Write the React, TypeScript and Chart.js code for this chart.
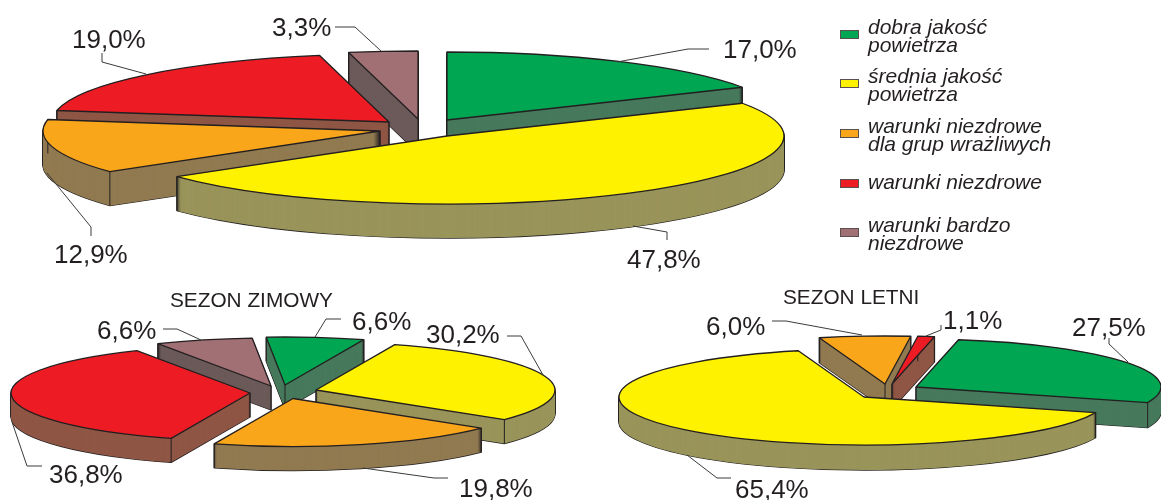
import React, { useEffect, useRef } from "react";
import { Chart, registerables } from "chart.js";

Chart.register(...registerables);

// Air-quality class shares, in percent
const categories: string[][] = [
  ["dobra jakość", "powietrza"],
  ["średnia jakość", "powietrza"],
  ["warunki niezdrowe", "dla grup wrażliwych"],
  ["warunki niezdrowe"],
  ["warunki bardzo", "niezdrowe"],
];
const allYearValues = [17.0, 47.8, 12.9, 19.0, 3.3];
const winterValues = [6.6, 30.2, 19.8, 36.8, 6.6];
const summerValues = [27.5, 65.4, 6.0, 1.1];

// Slice colours: top face and shaded wall, one per category
const faceColours = ["#00a651", "#fff200", "#faa61a", "#ed1c24", "#a17074"];
const wallColours = ["#47795c", "#99945a", "#917a50", "#8f5645", "#6b5a59"];
const INK = "#231f20";
const LEADER = "#3a3a3a";

type Pt = [number, number];
type PieSpec = {
  values: number[];
  centre: Pt;
  radii: Pt;
  depth: number;
  rotation: number;
  explode: Pt[]; // per-slice pull-out from the pie centre
  paintOrder: number[]; // back to front
  labelAt: Pt[]; // left end and baseline of each value label
  leaders: Pt[][];
  title?: { text: string; at: Pt };
};

const pies: PieSpec[] = [
  {
    values: allYearValues,
    centre: [418, 120],
    radii: [337, 68],
    depth: 34,
    rotation: 0,
    explode: [[29, 0], [29, 16], [-38, 11], [-29, 2], [0, -1]],
    paintOrder: [4, 3, 2, 0, 1],
    labelAt: [[723, 58], [627, 268], [54, 263], [72, 48], [272, 36]],
    leaders: [
      [[709, 49], [688, 49], [617, 62]],
      [[667, 240], [667, 232], [633, 226]],
      [[91, 236], [91, 227], [47, 173]],
      [[102, 53], [102, 62], [146, 74]],
      [[335, 27], [355, 27], [381, 51]],
    ],
  },
  {
    values: winterValues,
    centre: [280, 390],
    radii: [239, 48],
    depth: 24,
    rotation: -4.5,
    explode: [[5, -5], [36, 0], [13, 8.5], [-30, 3], [-9, -4]],
    paintOrder: [4, 0, 1, 2, 3],
    labelAt: [[352, 330], [426, 343], [459, 497], [49, 483], [97, 339]],
    leaders: [
      [[341, 319], [326, 319], [315, 337]],
      [[507, 336], [521, 336], [543, 375]],
      [[448, 478], [434, 478], [363, 468]],
      [[42, 466], [27, 466], [12, 422]],
      [[163, 329], [177, 329], [201, 340]],
    ],
    title: { text: "SEZON ZIMOWY", at: [170, 307] },
  },
  {
    values: summerValues,
    centre: [885, 390],
    radii: [245, 48],
    depth: 25,
    rotation: 10,
    explode: [[31, -3], [-21, 7], [0, -6], [7, -6]],
    paintOrder: [2, 3, 0, 1],
    labelAt: [[1072, 336], [735, 498], [706, 335], [943, 329]],
    leaders: [
      [[1109, 338], [1109, 344], [1128, 362]],
      [[731, 478], [717, 478], [687, 455]],
      [[772, 321], [786, 321], [862, 335]],
      [[941, 325], [941, 330], [926, 336]],
    ],
    title: { text: "SEZON LETNI", at: [783, 304] },
  },
];

// Legend rows: swatch top and one baseline per text line
const legendSwatchTops = [30, 79, 129, 179, 228];
const legendBaselines = [[34, 52], [83, 101], [133, 151], [189], [232, 250]];

const percent = (v: number) => v.toFixed(1).replace(".", ",") + "%";

// Runs a draw call with strokes in device pixels, so outlines keep an even
// width although the pie is squashed into an ellipse.
function withEvenStroke(ctx: any, draw: () => void) {
  const stroke = CanvasRenderingContext2D.prototype.stroke;
  ctx.stroke = function () {
    ctx.save();
    ctx.setTransform(1, 0, 0, 1, 0, 0);
    stroke.call(ctx);
    ctx.restore();
  };
  draw();
  delete ctx.stroke;
}

function tiltedPiePlugin(spec: PieSpec) {
  return {
    id: "tiltedPie",
    beforeDatasetDraw(chart: any, args: any) {
      const ctx = chart.ctx;
      const arcs = args.meta.data;
      const [rx, ry] = spec.radii;

      for (const i of spec.paintOrder) {
        const arc = arcs[i];
        const base = arc.options;
        const cx = spec.centre[0] + spec.explode[i][0];
        const cy = spec.centre[1] + spec.explode[i][1];
        const R = arc.outerRadius;

        const paint = (dy: number, fill: string, line: string, width: number) => {
          arc.options = {
            ...base,
            backgroundColor: fill,
            borderColor: line,
            borderWidth: width,
            borderJoinStyle: "round",
          };
          ctx.save();
          ctx.translate(cx, cy + dy);
          ctx.scale(rx / R, ry / R);
          ctx.translate(-arc.x, -arc.y);
          withEvenStroke(ctx, () => arc.draw(ctx));
          ctx.restore();
        };

        // Outline of the extruded body, then the wall fill over its inside
        for (let dy = spec.depth; dy >= 1; dy--) paint(dy, INK, INK, 1.3);
        for (let dy = spec.depth; dy >= 1; dy--) paint(dy, wallColours[i], wallColours[i], 0);

        // Vertical edges at the apex and at both rim corners
        ctx.save();
        ctx.strokeStyle = INK;
        ctx.lineWidth = 1;
        const corners: Pt[] = [
          [cx, cy],
          [cx + rx * Math.cos(arc.startAngle), cy + ry * Math.sin(arc.startAngle)],
          [cx + rx * Math.cos(arc.endAngle), cy + ry * Math.sin(arc.endAngle)],
        ];
        for (const [x, y] of corners) {
          ctx.beginPath();
          ctx.moveTo(x, y);
          ctx.lineTo(x, y + spec.depth);
          ctx.stroke();
        }
        ctx.restore();

        paint(0, faceColours[i], INK, 1.3);
        arc.options = base;
      }
      return false;
    },
    afterDraw(chart: any) {
      const ctx = chart.ctx;
      ctx.save();
      ctx.strokeStyle = LEADER;
      ctx.lineWidth = 1;
      for (const path of spec.leaders) {
        ctx.beginPath();
        path.forEach(([x, y], k) => (k ? ctx.lineTo(x, y) : ctx.moveTo(x, y)));
        ctx.stroke();
      }
      ctx.fillStyle = INK;
      ctx.textBaseline = "alphabetic";
      ctx.font = '26px "Liberation Sans"';
      spec.values.forEach((v, i) => {
        ctx.fillText(percent(v), spec.labelAt[i][0], spec.labelAt[i][1]);
      });
      if (spec.title) {
        ctx.font = '20.8px "Liberation Sans"';
        ctx.fillText(spec.title.text, spec.title.at[0], spec.title.at[1]);
      }
      ctx.restore();
    },
  };
}

// Category key on the right of the whole-year pie
const categoryKeyPlugin = {
  id: "categoryKey",
  afterDraw(chart: any) {
    const ctx = chart.ctx;
    ctx.save();
    ctx.textBaseline = "alphabetic";
    ctx.font = 'italic 21px "Liberation Sans"';
    categories.forEach((lines, i) => {
      ctx.fillStyle = faceColours[i];
      ctx.strokeStyle = "#5a5050";
      ctx.lineWidth = 1;
      ctx.fillRect(840.5, legendSwatchTops[i] + 0.5, 18, 8);
      ctx.strokeRect(840.5, legendSwatchTops[i] + 0.5, 18, 8);
      ctx.fillStyle = INK;
      lines.forEach((line, k) => ctx.fillText(line, 868, legendBaselines[i][k]));
    });
    ctx.restore();
  },
};

function TiltedPie({ spec, withKey }: { spec: PieSpec; withKey: boolean }) {
  const ref = useRef<HTMLCanvasElement>(null);
  useEffect(() => {
    const chart = new Chart(ref.current!, {
      type: "pie",
      data: {
        labels: categories.slice(0, spec.values.length).map((l) => l.join(" ")),
        datasets: [{ data: spec.values, backgroundColor: faceColours, borderWidth: 0, hoverOffset: 0 }],
      },
      options: {
        responsive: false,
        animation: false,
        devicePixelRatio: 1,
        rotation: spec.rotation,
        events: [],
        plugins: { legend: { display: false }, tooltip: { enabled: false } },
      },
      plugins: withKey ? [tiltedPiePlugin(spec), categoryKeyPlugin] : [tiltedPiePlugin(spec)],
    } as any);
    return () => chart.destroy();
  }, [spec, withKey]);
  return (
    <canvas
      ref={ref}
      width={1161}
      height={500}
      style={{ position: "absolute", left: 0, top: 0, display: "block" }}
    />
  );
}

export default function App() {
  return (
    <div style={{ position: "absolute", left: 0, top: 0, width: 1161, height: 500, background: "#fff", overflow: "hidden" }}>
      {pies.map((spec, i) => (
        <TiltedPie key={i} spec={spec} withKey={i === 0} />
      ))}
    </div>
  );
}
